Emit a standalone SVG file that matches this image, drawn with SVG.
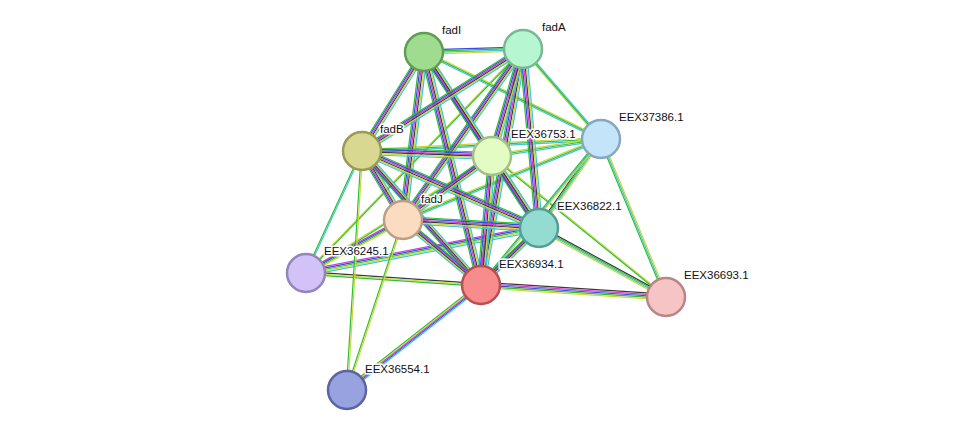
<svg xmlns="http://www.w3.org/2000/svg" xmlns:xlink="http://www.w3.org/1999/xlink" width="976" height="436" viewBox="0 0 976 436">
<style>
use{stroke-width:1.2;fill:none}
.a{stroke:#3a3a3a}.b{stroke:#2ec02e}.c{stroke:#3848e0}.d{stroke:#d040d0}.e{stroke:#c8d83c}.f{stroke:#40c4d4}
.n circle{stroke-width:2.5}
text{font-family:"Liberation Sans",Arial,sans-serif;font-size:11.5px;fill:#111;stroke:#fff;stroke-width:3;paint-order:stroke;stroke-linejoin:round}
</style>
<defs>
<line id="IB" x1="424" y1="52" x2="362" y2="151"/>
<line id="IJ" x1="424" y1="52" x2="403" y2="220"/>
<line id="IX" x1="424" y1="52" x2="481" y2="285"/>
<line id="AB" x1="523" y1="49" x2="362" y2="151"/>
<line id="AJ" x1="523" y1="49" x2="403" y2="220"/>
<line id="AX" x1="523" y1="49" x2="481" y2="285"/>
<line id="BJ" x1="362" y1="151" x2="403" y2="220"/>
<line id="BX" x1="362" y1="151" x2="481" y2="285"/>
<line id="JX" x1="403" y1="220" x2="481" y2="285"/>
<line id="IM" x1="424" y1="52" x2="492" y2="156"/>
<line id="AM" x1="523" y1="49" x2="492" y2="156"/>
<line id="MX" x1="492" y1="156" x2="481" y2="285"/>
<line id="IT" x1="424" y1="52" x2="539" y2="228"/>
<line id="AT" x1="523" y1="49" x2="539" y2="228"/>
<line id="BT" x1="362" y1="151" x2="539" y2="228"/>
<line id="JT" x1="403" y1="220" x2="539" y2="228"/>
<line id="TX" x1="539" y1="228" x2="481" y2="285"/>
<line id="IA" x1="424" y1="52" x2="523" y2="49"/>
<line id="BM" x1="362" y1="151" x2="492" y2="156"/>
<line id="JM" x1="403" y1="220" x2="492" y2="156"/>
<line id="MT" x1="492" y1="156" x2="539" y2="228"/>
<line id="RI" x1="601" y1="139" x2="424" y2="52"/>
<line id="RA" x1="601" y1="139" x2="523" y2="49"/>
<line id="RB" x1="601" y1="139" x2="362" y2="151"/>
<line id="RM" x1="601" y1="139" x2="492" y2="156"/>
<line id="RT" x1="601" y1="139" x2="539" y2="228"/>
<line id="RJ" x1="601" y1="139" x2="403" y2="220"/>
<line id="RP" x1="601" y1="139" x2="666" y2="297"/>
<line id="RX" x1="601" y1="139" x2="481" y2="285"/>
<line id="PT" x1="666" y1="297" x2="539" y2="228"/>
<line id="PX" x1="666" y1="297" x2="481" y2="285"/>
<line id="PM" x1="666" y1="297" x2="492" y2="156"/>
<line id="LB" x1="306" y1="273" x2="362" y2="151"/>
<line id="LJ" x1="306" y1="273" x2="403" y2="220"/>
<line id="LX" x1="306" y1="273" x2="481" y2="285"/>
<line id="LT" x1="306" y1="273" x2="539" y2="228"/>
<line id="LM" x1="306" y1="273" x2="492" y2="156"/>
<line id="LA" x1="306" y1="273" x2="523" y2="49"/>
<line id="SB" x1="347" y1="390" x2="362" y2="151"/>
<line id="SJ" x1="347" y1="390" x2="403" y2="220"/>
<line id="SX" x1="347" y1="390" x2="481" y2="285"/>
</defs>
<g id="connectors">
<!-- peripheral -->
<use href="#LA" class="e" x="-0.7"/><use href="#LA" class="b" x="0.7"/>
<use href="#LM" class="e" y="-0.7"/><use href="#LM" class="b" y="0.7"/>
<use href="#PM" class="e" y="-0.7"/><use href="#PM" class="b" y="0.7"/>
<use href="#LB" class="b" x="-0.7"/><use href="#LB" class="f" x="0.7"/>
<use href="#LJ" class="d" y="-2.1"/><use href="#LJ" class="c" y="-0.7"/><use href="#LJ" class="b" y="0.7"/><use href="#LJ" class="e" y="2.1"/>
<use href="#LX" class="a" y="-1.4"/><use href="#LX" class="e" y="0"/><use href="#LX" class="b" y="1.4"/>
<use href="#LT" class="d" y="-2.8"/><use href="#LT" class="c" y="-1.4"/><use href="#LT" class="b" y="0"/><use href="#LT" class="e" y="1.4"/><use href="#LT" class="f" y="2.8"/>
<use href="#SB" class="b" x="-0.7"/><use href="#SB" class="e" x="0.7"/>
<use href="#SJ" class="b" x="-0.7"/><use href="#SJ" class="e" x="0.7"/>
<use href="#SX" class="b" y="-2.8"/><use href="#SX" class="e" y="-1.4"/><use href="#SX" class="d" y="0"/><use href="#SX" class="c" y="1.4"/><use href="#SX" class="f" y="2.8"/>
<use href="#RI" class="e" y="-1.4"/><use href="#RI" class="b" y="0"/><use href="#RI" class="f" y="1.4"/>
<use href="#RA" class="e" x="-1.4"/><use href="#RA" class="b" x="0"/><use href="#RA" class="f" x="1.4"/>
<use href="#RB" class="e" y="-1.4"/><use href="#RB" class="b" y="0"/><use href="#RB" class="f" y="1.4"/>
<use href="#RM" class="e" y="-1.4"/><use href="#RM" class="b" y="0"/><use href="#RM" class="f" y="1.4"/>
<use href="#RJ" class="e" y="-1.4"/><use href="#RJ" class="b" y="0"/><use href="#RJ" class="f" y="1.4"/>
<use href="#RT" class="a" x="-2.1"/><use href="#RT" class="b" x="-0.7"/><use href="#RT" class="f" x="0.7"/><use href="#RT" class="e" x="2.1"/>
<use href="#RP" class="b" x="-1.4"/><use href="#RP" class="f" x="0"/><use href="#RP" class="e" x="1.4"/>
<use href="#RX" class="b" x="-1.4"/><use href="#RX" class="f" x="0"/><use href="#RX" class="e" x="1.4"/>
<use href="#PT" class="a" y="-2.1"/><use href="#PT" class="b" y="-0.7"/><use href="#PT" class="f" y="0.7"/><use href="#PT" class="e" y="2.1"/>
<use href="#PX" class="a" y="-2.8"/><use href="#PX" class="d" y="-1.4"/><use href="#PX" class="c" y="0"/><use href="#PX" class="b" y="1.4"/><use href="#PX" class="e" y="2.8"/>
<use href="#IA" class="c" y="-2.1"/><use href="#IA" class="b" y="-0.7"/><use href="#IA" class="f" y="0.7"/><use href="#IA" class="e" y="2.1"/>
<!-- core vertical-ish -->
<use href="#IB" class="b" x="-3.5"/><use href="#IB" class="c" x="-2.1"/><use href="#IB" class="d" x="-0.7"/><use href="#IB" class="a" x="0.7"/><use href="#IB" class="e" x="2.1"/><use href="#IB" class="f" x="3.5"/>
<use href="#IJ" class="b" x="-3.5"/><use href="#IJ" class="c" x="-2.1"/><use href="#IJ" class="d" x="-0.7"/><use href="#IJ" class="a" x="0.7"/><use href="#IJ" class="e" x="2.1"/><use href="#IJ" class="f" x="3.5"/>
<use href="#IX" class="b" x="-3.5"/><use href="#IX" class="c" x="-2.1"/><use href="#IX" class="d" x="-0.7"/><use href="#IX" class="a" x="0.7"/><use href="#IX" class="e" x="2.1"/><use href="#IX" class="f" x="3.5"/>
<use href="#AJ" class="b" x="-3.5"/><use href="#AJ" class="c" x="-2.1"/><use href="#AJ" class="d" x="-0.7"/><use href="#AJ" class="a" x="0.7"/><use href="#AJ" class="e" x="2.1"/><use href="#AJ" class="f" x="3.5"/>
<use href="#AX" class="b" x="-3.5"/><use href="#AX" class="c" x="-2.1"/><use href="#AX" class="d" x="-0.7"/><use href="#AX" class="a" x="0.7"/><use href="#AX" class="e" x="2.1"/><use href="#AX" class="f" x="3.5"/>
<use href="#BJ" class="b" x="-3.5"/><use href="#BJ" class="c" x="-2.1"/><use href="#BJ" class="d" x="-0.7"/><use href="#BJ" class="a" x="0.7"/><use href="#BJ" class="e" x="2.1"/><use href="#BJ" class="f" x="3.5"/>
<use href="#BX" class="b" x="-3.5"/><use href="#BX" class="c" x="-2.1"/><use href="#BX" class="d" x="-0.7"/><use href="#BX" class="a" x="0.7"/><use href="#BX" class="e" x="2.1"/><use href="#BX" class="f" x="3.5"/>
<use href="#IM" class="b" x="-3.5"/><use href="#IM" class="c" x="-2.1"/><use href="#IM" class="d" x="-0.7"/><use href="#IM" class="a" x="0.7"/><use href="#IM" class="e" x="2.1"/><use href="#IM" class="f" x="3.5"/>
<use href="#AM" class="b" x="-3.5"/><use href="#AM" class="c" x="-2.1"/><use href="#AM" class="d" x="-0.7"/><use href="#AM" class="a" x="0.7"/><use href="#AM" class="e" x="2.1"/><use href="#AM" class="f" x="3.5"/>
<use href="#MX" class="b" x="-3.5"/><use href="#MX" class="c" x="-2.1"/><use href="#MX" class="d" x="-0.7"/><use href="#MX" class="a" x="0.7"/><use href="#MX" class="e" x="2.1"/><use href="#MX" class="f" x="3.5"/>
<use href="#IT" class="b" x="-3.5"/><use href="#IT" class="c" x="-2.1"/><use href="#IT" class="d" x="-0.7"/><use href="#IT" class="a" x="0.7"/><use href="#IT" class="e" x="2.1"/><use href="#IT" class="f" x="3.5"/>
<use href="#AT" class="b" x="-3.5"/><use href="#AT" class="c" x="-2.1"/><use href="#AT" class="d" x="-0.7"/><use href="#AT" class="a" x="0.7"/><use href="#AT" class="e" x="2.1"/><use href="#AT" class="f" x="3.5"/>
<use href="#MT" class="b" x="-3.5"/><use href="#MT" class="c" x="-2.1"/><use href="#MT" class="d" x="-0.7"/><use href="#MT" class="a" x="0.7"/><use href="#MT" class="e" x="2.1"/><use href="#MT" class="f" x="3.5"/>
<use href="#TX" class="b" x="-3.5"/><use href="#TX" class="c" x="-2.1"/><use href="#TX" class="d" x="-0.7"/><use href="#TX" class="a" x="0.7"/><use href="#TX" class="e" x="2.1"/><use href="#TX" class="f" x="3.5"/>
<!-- core horizontal-ish -->
<use href="#AB" class="b" y="-3.5"/><use href="#AB" class="c" y="-2.1"/><use href="#AB" class="d" y="-0.7"/><use href="#AB" class="a" y="0.7"/><use href="#AB" class="e" y="2.1"/><use href="#AB" class="f" y="3.5"/>
<use href="#JX" class="b" y="-3.5"/><use href="#JX" class="c" y="-2.1"/><use href="#JX" class="d" y="-0.7"/><use href="#JX" class="a" y="0.7"/><use href="#JX" class="e" y="2.1"/><use href="#JX" class="f" y="3.5"/>
<use href="#BT" class="b" y="-3.5"/><use href="#BT" class="c" y="-2.1"/><use href="#BT" class="d" y="-0.7"/><use href="#BT" class="a" y="0.7"/><use href="#BT" class="e" y="2.1"/><use href="#BT" class="f" y="3.5"/>
<use href="#JT" class="b" y="-3.5"/><use href="#JT" class="c" y="-2.1"/><use href="#JT" class="d" y="-0.7"/><use href="#JT" class="a" y="0.7"/><use href="#JT" class="e" y="2.1"/><use href="#JT" class="f" y="3.5"/>
<use href="#BM" class="b" y="-3.5"/><use href="#BM" class="c" y="-2.1"/><use href="#BM" class="d" y="-0.7"/><use href="#BM" class="a" y="0.7"/><use href="#BM" class="e" y="2.1"/><use href="#BM" class="f" y="3.5"/>
<use href="#JM" class="b" y="-3.5"/><use href="#JM" class="c" y="-2.1"/><use href="#JM" class="d" y="-0.7"/><use href="#JM" class="a" y="0.7"/><use href="#JM" class="e" y="2.1"/><use href="#JM" class="f" y="3.5"/>
</g>
<g id="fadI" class="n"><circle cx="424" cy="52" r="19" fill="#a0dc90" stroke="#5e9e50"/><text x="442" y="34">fadI</text></g>
<g id="fadA" class="n"><circle cx="523" cy="49" r="19" fill="#b6f6d0" stroke="#7ab894"/><text x="542" y="31">fadA</text></g>
<g id="fadB" class="n"><circle cx="362" cy="151" r="19" fill="#d8d890" stroke="#9a9a54"/><text x="380" y="133">fadB</text></g>
<g id="EEX36753.1" class="n"><circle cx="492" cy="156" r="19" fill="#e2fcc4" stroke="#a4be88"/><text x="511" y="138">EEX36753.1</text></g>
<g id="EEX37386.1" class="n"><circle cx="601" cy="139" r="19" fill="#c4e4fa" stroke="#84a8c0"/><text x="619" y="121">EEX37386.1</text></g>
<g id="fadJ" class="n"><circle cx="403" cy="220" r="19" fill="#fcdcc0" stroke="#bc9e84"/><text x="421" y="203">fadJ</text></g>
<g id="EEX36822.1" class="n"><circle cx="539" cy="228" r="19" fill="#94dcd2" stroke="#569e94"/><text x="557" y="210">EEX36822.1</text></g>
<g id="EEX36245.1" class="n"><circle cx="306" cy="273" r="19" fill="#d2c2f8" stroke="#9484bc"/><text x="324" y="255">EEX36245.1</text></g>
<g id="EEX36934.1" class="n"><circle cx="481" cy="285" r="19" fill="#f88c8c" stroke="#b85050"/><text x="499" y="268">EEX36934.1</text></g>
<g id="EEX36693.1" class="n"><circle cx="666" cy="297" r="19" fill="#f6c4c4" stroke="#b88686"/><text x="684" y="279">EEX36693.1</text></g>
<g id="EEX36554.1" class="n"><circle cx="347" cy="390" r="19" fill="#98a2e0" stroke="#5a64a2"/><text x="365" y="373">EEX36554.1</text></g>
</svg>
